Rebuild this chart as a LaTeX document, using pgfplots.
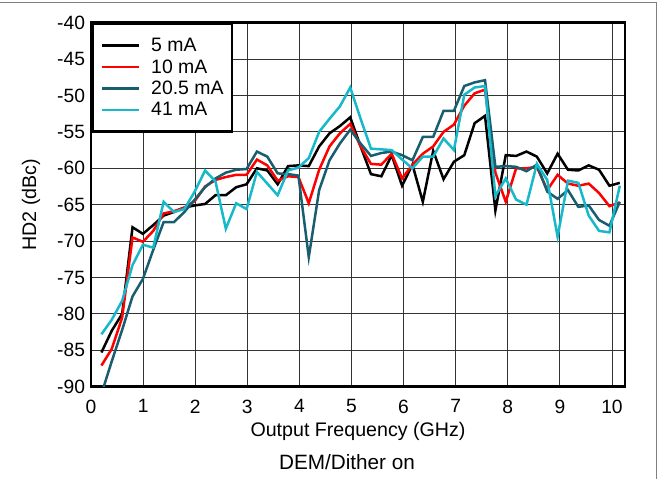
\documentclass[border=0pt]{standalone}
\usepackage{fontspec}
\setmainfont{Liberation Sans}
\usepackage{pgfplots}
\usepackage{pgfplotstable}
\pgfplotsset{compat=1.18}
\definecolor{tiRed}{RGB}{255,0,0}
\definecolor{tiTeal}{RGB}{24,94,110}
\definecolor{tiCyan}{RGB}{22,184,202}

\pgfplotstableread{
x a b c d
0.200 -85.3 -87.1 -91.0 -82.8
0.399 -82.3 -84.8 -86.5 -80.8
0.598 -80.0 -80.5 -82.2 -78.2
0.797 -68.1 -69.5 -77.6 -73.3
0.996 -69.0 -70.1 -75.2 -70.5
1.195 -67.8 -68.6 -71.2 -70.9
1.394 -66.5 -66.2 -67.4 -64.6
1.593 -66.0 -65.9 -67.4 -66.0
1.792 -65.4 -65.4 -66.0 -65.6
1.991 -65.1 -64.5 -64.3 -63.2
2.190 -64.9 -62.5 -62.6 -60.3
2.389 -63.7 -61.6 -61.4 -61.8
2.588 -63.7 -61.2 -60.6 -68.3
2.787 -62.6 -60.9 -60.2 -64.8
2.986 -62.2 -60.9 -60.1 -65.6
3.185 -60.0 -58.8 -57.7 -60.5
3.384 -60.3 -59.6 -58.4 -62.1
3.583 -62.2 -61.7 -60.7 -63.7
3.782 -59.7 -61.1 -60.8 -60.3
3.981 -59.6 -61.2 -61.0 -59.9
4.180 -59.7 -64.8 -72.2 -58.6
4.379 -57.0 -60.2 -63.0 -55.0
4.578 -55.2 -57.0 -58.9 -53.2
4.777 -54.2 -55.2 -56.6 -51.5
4.976 -53.0 -53.9 -54.7 -48.9
5.175 -57.0 -57.0 -56.6 -53.2
5.374 -60.8 -59.4 -58.3 -57.3
5.573 -61.1 -59.5 -57.9 -57.4
5.772 -58.2 -58.0 -57.7 -57.5
5.971 -62.4 -61.4 -58.2 -58.8
6.170 -59.5 -59.5 -58.9 -60.0
6.369 -64.6 -58.0 -55.7 -58.4
6.568 -57.6 -57.0 -55.7 -58.4
6.767 -61.5 -55.0 -52.1 -55.9
6.966 -59.1 -54.0 -52.1 -57.5
7.165 -58.2 -51.4 -48.7 -49.9
7.364 -53.8 -49.7 -48.2 -48.9
7.563 -52.8 -49.2 -47.9 -48.7
7.762 -65.8 -60.6 -59.8 -63.8
7.961 -58.2 -64.6 -59.7 -61.4
8.160 -58.3 -60.0 -59.8 -64.3
8.359 -57.7 -60.0 -60.4 -65.0
8.558 -58.4 -59.8 -59.5 -59.4
8.757 -60.7 -63.0 -63.2 -61.6
8.956 -58.0 -60.9 -64.2 -69.4
9.155 -60.2 -62.1 -63.0 -61.7
9.354 -60.3 -62.4 -65.3 -62.0
9.553 -59.6 -62.1 -65.1 -66.5
9.752 -60.2 -63.4 -67.1 -68.6
9.951 -62.4 -65.2 -67.9 -68.8
10.150 -62.0 -64.7 -64.6 -62.4
}\hdtwo

\begin{document}
\begin{tikzpicture}[x=1bp,y=1bp]
\path[use as bounding box] (0,0) rectangle (660,479);
\draw[black!50, line width=1bp] (0,476) -- (656,476) -- (656,0);
\begin{axis}[
  at={(91bp,92.3bp)}, anchor=south west,
  scale only axis, width=534bp, height=364bp,
  xmin=0, xmax=10.25, ymin=-90, ymax=-40,
  xtick={0,1,...,10}, ytick={-90,-85,...,-40},
  grid=major, grid style={black!80, line width=0.9bp},
  major tick length=0pt,
  axis line style={line width=2.8bp},
  tick label style={font=\fontsize{19.3}{22}\selectfont},
  /pgf/number format/assume math mode=true,
  yticklabel style={xshift=-2.5bp},
  xticklabel style={yshift=-9.5bp},
  xlabel={Output Frequency (GHz)},
  xlabel style={at={(axis description cs:0.5,0)}, anchor=base, yshift=-50bp, font=\fontsize{19.7}{22}\selectfont},
  ylabel={HD2 (dBc)},
  ylabel style={at={(axis description cs:-0.1124,0.5)}, anchor=center, font=\fontsize{19.7}{22}\selectfont},
  legend cell align=left,
  legend image code/.code={\draw[#1, line width=2.6bp] (0bp,0bp) -- (37bp,0bp);},
  legend style={at={(axis description cs:0,1)}, anchor=north west, draw=black, line width=2.8bp,
    font=\fontsize{19.5}{22}\selectfont, inner xsep=8.5bp, inner ysep=14bp,
    nodes={inner sep=0bp}, row sep=6.5bp,
    /tikz/every odd column/.append style={column sep=10.7bp}},
  every axis plot/.append style={line width=2.5bp},
]
\addplot[black] table[x=x,y=a]{\hdtwo};
\addlegendentry{5 mA}
\addplot[tiRed] table[x=x,y=b]{\hdtwo};
\addlegendentry{10 mA}
\addplot[tiTeal] table[x=x,y=c]{\hdtwo};
\addlegendentry{20.5 mA}
\addplot[tiCyan] table[x=x,y=d]{\hdtwo};
\addlegendentry{41 mA}
\end{axis}
\node[anchor=base, font=\fontsize{20.8}{23}\selectfont] at (347,9) {DEM/Dither on};
\end{tikzpicture}
\end{document}
